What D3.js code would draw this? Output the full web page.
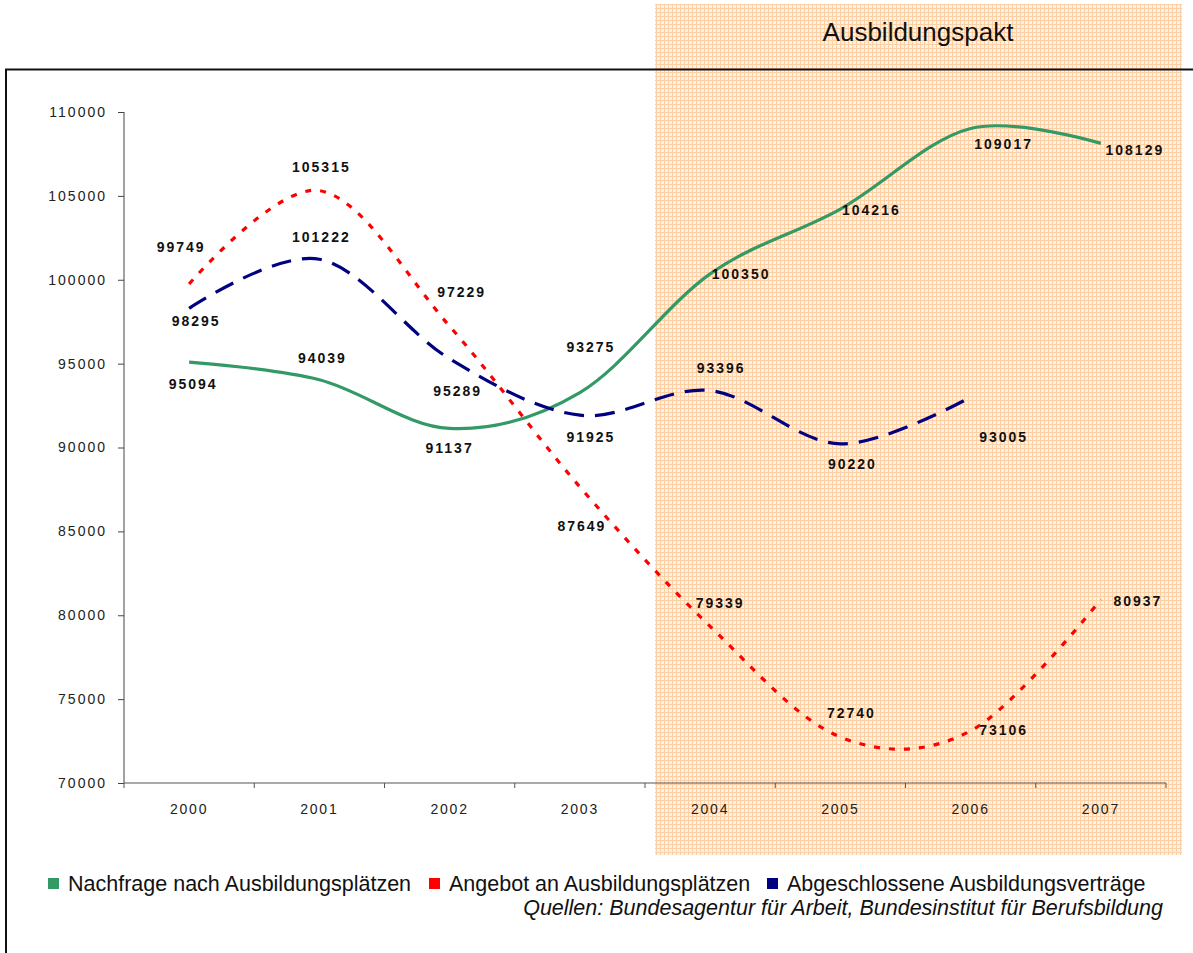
<!DOCTYPE html>
<html>
<head>
<meta charset="utf-8">
<script src="https://cdn.jsdelivr.net/npm/d3@7"></script>
<style>
  body { margin: 0; background: #fff; }
  svg { display: block; font-family: "Liberation Sans", Arial, sans-serif; }
</style>
</head>
<body>
<svg width="1193" height="953"></svg>
<script>
const width = 1193, height = 953;
const svg = d3.select("svg");

const years = [2000, 2001, 2002, 2003, 2004, 2005, 2006, 2007];
const nachfrage = [95094, 94039, 91137, 93275, 100350, 104216, 109017, 108129];
const angebot = [99749, 105315, 97229, 87649, 79339, 72740, 73106, 80937];
const vertraege = [98295, 101222, 95289, 91925, 93396, 90220, 93005];
const yTicks = [70000, 75000, 80000, 85000, 90000, 95000, 100000, 105000, 110000];
const paktYears = [2004, 2007];

// label placement relative to each point (dx, dy of text centre)
const offNachfrage = [[4, 22], [3, -22], [0, 20], [11, -46], [31, 0], [31, 1], [33, 16], [34, 7]];
const offAngebot = [[-8, -37], [2, -24], [12, -34], [2, 39], [10, -23], [11, -24], [33, -1], [37, 1]];
const offVertraege = [[7, 13], [2, -22], [8, 32], [11, 22], [11, -23], [12, 20], [33, 40]];

const series = [
  { name: "Nachfrage nach Ausbildungsplätzen", values: nachfrage, off: offNachfrage,
    color: "#339966", dash: null },
  { name: "Angebot an Ausbildungsplätzen", values: angebot, off: offAngebot,
    color: "#ff0000", dash: "6,9" },
  { name: "Abgeschlossene Ausbildungsverträge", values: vertraege, off: offVertraege,
    color: "#000080", dash: "20,11" }
];

const x = d3.scaleBand().domain(years).range([124, 1166]);
const cx = d => x(d) + x.bandwidth() / 2;
const y = d3.scaleLinear().domain([70000, 110000]).range([783, 112]);

// hatched background pattern for the Ausbildungspakt
const defs = svg.append("defs");
const pat = defs.append("pattern").attr("id", "pakt").attr("patternUnits", "userSpaceOnUse")
  .attr("width", 4).attr("height", 4);
pat.append("rect").attr("width", 4).attr("height", 4).attr("fill", "#fff0e2");
pat.append("rect").attr("width", 4).attr("height", 1).attr("fill", "#fcd0a4");
pat.append("rect").attr("width", 1).attr("height", 4).attr("fill", "#fcd0a4");

const shadeLeft = x(paktYears[0]) + 10;
const shadeRight = x(paktYears[1]) + x.bandwidth() + 16;
svg.append("rect")
  .attr("x", shadeLeft).attr("y", 4)
  .attr("width", shadeRight - shadeLeft)
  .attr("height", 851)
  .attr("fill", "url(#pakt)");

svg.append("text").attr("x", 918).attr("y", 41).attr("text-anchor", "middle")
  .attr("font-size", 26).attr("fill", "#111").text("Ausbildungspakt");

// frame
svg.append("path").attr("d", `M6,${height} V69.5 H${width}`)
  .attr("fill", "none").attr("stroke", "#111").attr("stroke-width", 2);

// y axis
const yAxis = svg.append("g").attr("transform", "translate(124,0)")
  .call(d3.axisLeft(y).tickValues(yTicks).tickSize(6).tickPadding(11).tickFormat(d3.format("d")));
yAxis.select(".domain").attr("stroke", "#444").attr("d", `M0,${y(110000)}V${y(70000)}`);
yAxis.selectAll(".tick line").attr("stroke", "#444");
yAxis.selectAll("text").attr("font-size", 14).attr("letter-spacing", 2).attr("fill", "#222")
  .attr("font-family", "Liberation Sans, Arial, sans-serif");

// x axis
const xAxis = svg.append("g").attr("transform", "translate(0,783)");
xAxis.append("line").attr("x1", 124).attr("x2", 1166).attr("stroke", "#555").attr("stroke-width", 1.2);
xAxis.selectAll(".tk").data(years.concat(["end"])).join("line")
  .attr("x1", d => d === "end" ? 1166 : x(d)).attr("x2", d => d === "end" ? 1166 : x(d))
  .attr("y1", 0).attr("y2", 5).attr("stroke", "#555");
xAxis.selectAll(".lbl").data(years).join("text")
  .attr("x", d => cx(d)).attr("y", 31).attr("text-anchor", "middle")
  .attr("font-size", 14).attr("letter-spacing", 1.8).attr("fill", "#222").text(d => d);

// lines
const line = d3.line().x(d => cx(d.year)).y(d => y(d.value)).curve(d3.curveCatmullRom.alpha(0));
series.forEach(s => {
  const pts = s.values.map((v, i) => ({ year: years[i], value: v }));
  svg.append("path").datum(pts)
    .attr("fill", "none").attr("stroke", s.color).attr("stroke-width", 3.2)
    .attr("stroke-dasharray", s.dash)
    .attr("d", line);
});

// value labels
series.forEach(s => {
  svg.append("g").selectAll("text").data(s.values).join("text")
    .attr("x", (v, i) => cx(years[i]) + s.off[i][0])
    .attr("y", (v, i) => y(v) + s.off[i][1] + 5)
    .attr("text-anchor", "middle")
    .attr("font-size", 14).attr("font-weight", "bold").attr("letter-spacing", 2)
    .attr("fill", "#111")
    .text(v => v);
});

// legend
const legendX = [48, 429, 767];
const leg = svg.append("g").selectAll("g").data(series).join("g")
  .attr("transform", (d, i) => `translate(${legendX[i]},878)`);
leg.append("rect").attr("width", 11).attr("height", 11).attr("fill", d => d.color);
leg.append("text").attr("x", 20).attr("y", 13).attr("font-size", 21.5).attr("fill", "#111").text(d => d.name);

svg.append("text").attr("x", 1163).attr("y", 915).attr("text-anchor", "end")
  .attr("font-size", 21.5).attr("font-style", "italic").attr("fill", "#111")
  .text("Quellen: Bundesagentur für Arbeit, Bundesinstitut für Berufsbildung");
</script>
</body>
</html>
